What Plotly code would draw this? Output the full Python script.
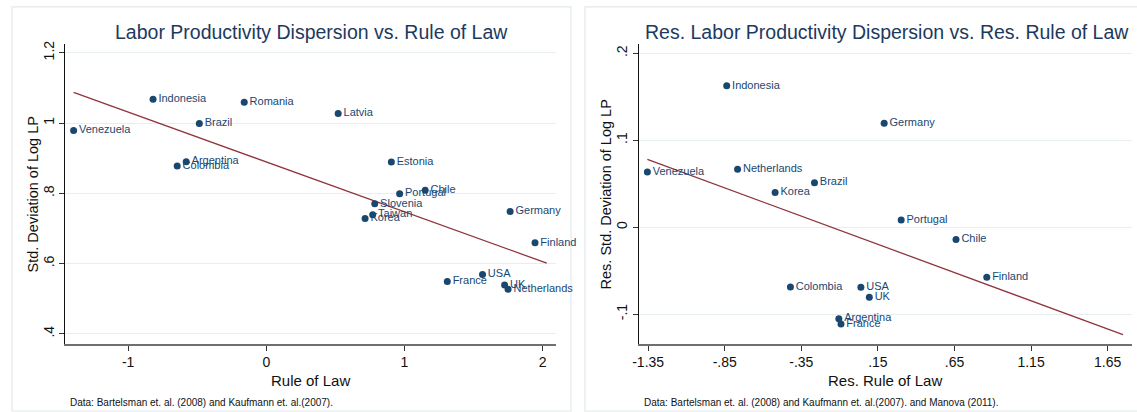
import numpy as np
import plotly.graph_objects as go

# ---------------- data ----------------
left_countries = ["Indonesia", "Romania", "Latvia", "Brazil", "Venezuela", "Argentina",
                  "Colombia", "Estonia", "Chile", "Portugal", "Slovenia", "Taiwan", "Korea",
                  "Germany", "Finland", "USA", "France", "UK", "Netherlands"]
left_rule_of_law = [-0.82, -0.16, 0.52, -0.485, -1.395, -0.58, -0.645, 0.905, 1.15, 0.965,
                    0.785, 0.77, 0.715, 1.765, 1.945, 1.565, 1.31, 1.725, 1.75]
left_sd_log_lp = [1.068, 1.059, 1.027, 0.999, 0.979, 0.890, 0.878, 0.889, 0.809, 0.799,
                  0.770, 0.739, 0.728, 0.748, 0.659, 0.569, 0.549, 0.539, 0.527]
left_fit_range = [-1.395, 2.03]

right_countries = ["Indonesia", "Germany", "Venezuela", "Netherlands", "Brazil", "Korea",
                   "Portugal", "Chile", "Finland", "Colombia", "USA", "UK", "Argentina", "France"]
right_res_rule = [-0.837, 0.191, -1.355, -0.766, -0.264, -0.521, 0.302, 0.660, 0.861,
                  -0.421, 0.039, 0.094, -0.105, -0.091]
right_res_sd = [0.1626, 0.1196, 0.0634, 0.0665, 0.0511, 0.040, 0.0081, -0.0142, -0.0577,
                -0.0688, -0.0692, -0.0807, -0.1053, -0.1115]
right_fit_range = [-1.355, 1.75]

left_xticks = [-1, 0, 1, 2]
left_xticktext = ["-1", "0", "1", "2"]
left_yticks = [0.4, 0.6, 0.8, 1.0, 1.2]
left_yticktext = [".4", ".6", ".8", "1", "1.2"]
right_xticks = [-1.35, -0.85, -0.35, 0.15, 0.65, 1.15, 1.65]
right_xticktext = ["-1.35", "-.85", "-.35", ".15", ".65", "1.15", "1.65"]
right_yticks = [-0.1, 0.0, 0.1, 0.2]
right_yticktext = ["-.1", "0", ".1", ".2"]

left_title = "Labor Productivity Dispersion vs. Rule of Law"
right_title = "Res. Labor Productivity Dispersion vs. Res. Rule of Law"
left_xlabel = "Rule of Law"
left_ylabel = "Std. Deviation of Log LP"
right_xlabel = "Res. Rule of Law"
right_ylabel = "Res. Std. Deviation of Log LP"
left_note = "Data: Bartelsman et. al. (2008) and Kaufmann et. al.(2007)."
right_note = "Data: Bartelsman et. al. (2008) and Kaufmann et. al.(2007). and Manova (2011)."

# ---------------- styling / layout ----------------
W, H = 1137, 412
FONT = "Liberation Sans, Arial, Helvetica, sans-serif"
NAVY = "#1a476f"
MAROON = "#90353b"
GRID = "#e6eef1"
BORDER = "#e1e9ec"


def px(x):
    return x / W


def py(y):
    return 1 - y / H


fig = go.Figure()


def fit_line(xs, ys, rng):
    b, a = np.polyfit(np.array(xs), np.array(ys), 1)
    fx = np.array(rng)
    return fx, a + b * fx


# left panel
fx, fy = fit_line(left_rule_of_law, left_sd_log_lp, left_fit_range)
fig.add_trace(go.Scatter(x=fx, y=fy, mode="lines", line=dict(color=MAROON, width=1.3),
                         xaxis="x", yaxis="y", showlegend=False, hoverinfo="skip"))
fig.add_trace(go.Scatter(x=left_rule_of_law, y=left_sd_log_lp, mode="markers+text",
                         text=left_countries, textposition="middle right",
                         textfont=dict(family=FONT, size=11, color=NAVY),
                         marker=dict(color=NAVY, size=7), cliponaxis=False,
                         xaxis="x", yaxis="y", showlegend=False))

# right panel
fx, fy = fit_line(right_res_rule, right_res_sd, right_fit_range)
fig.add_trace(go.Scatter(x=fx, y=fy, mode="lines", line=dict(color=MAROON, width=1.3),
                         xaxis="x2", yaxis="y2", showlegend=False, hoverinfo="skip"))
fig.add_trace(go.Scatter(x=right_res_rule, y=right_res_sd, mode="markers+text",
                         text=right_countries, textposition="middle right",
                         textfont=dict(family=FONT, size=11, color=NAVY),
                         marker=dict(color=NAVY, size=7), cliponaxis=False,
                         xaxis="x2", yaxis="y2", showlegend=False))

xcommon = dict(showgrid=False, zeroline=False, showline=True, linecolor="#6f6f6f",
               linewidth=2, ticks="outside", ticklen=5, tickcolor="#333333",
               tickfont=dict(family=FONT, size=14, color="#111111"))
ycommon = dict(showgrid=True, gridcolor=GRID, gridwidth=1, zeroline=False, showline=True,
               linecolor="#111111", linewidth=1, ticks="outside", ticklen=5,
               tickcolor="#333333", tickangle=-90,
               tickfont=dict(family=FONT, size=14, color="#111111"))

fig.update_layout(
    width=W, height=H,
    margin=dict(l=0, r=0, t=0, b=0),
    paper_bgcolor="white", plot_bgcolor="white",
    font=dict(family=FONT),
    xaxis=dict(domain=[px(59.5), px(552.5)], range=[-1.456, 2.094], anchor="y",
               tickvals=left_xticks, ticktext=left_xticktext, **xcommon),
    yaxis=dict(domain=[py(343), py(41)], range=[0.3725, 1.2258], anchor="x",
               tickvals=left_yticks, ticktext=left_yticktext, **ycommon),
    xaxis2=dict(domain=[px(636), px(1131.5)], range=[-1.412, 1.806], anchor="y2",
                tickvals=right_xticks, ticktext=right_xticktext, **xcommon),
    yaxis2=dict(domain=[py(343), py(41)], range=[-0.1338, 0.211], anchor="x2",
                tickvals=right_yticks, ticktext=right_yticktext, **ycommon),
)

# panel frames
fig.add_shape(type="rect", xref="paper", yref="paper", x0=px(6), x1=px(568),
              y0=py(411), y1=py(4), line=dict(color=BORDER, width=1.2), layer="below")
fig.add_shape(type="rect", xref="paper", yref="paper", x0=px(582), x1=px(1145),
              y0=py(411), y1=py(4), line=dict(color=BORDER, width=1.2), layer="below")


def ann(text, x, y, size, color="#111111", angle=0, xanchor="center"):
    fig.add_annotation(text=text, x=px(x), y=py(y), xref="paper", yref="paper",
                       showarrow=False, xanchor=xanchor, yanchor="middle",
                       textangle=angle, font=dict(family=FONT, size=size, color=color))


ann(left_title, 307, 29, 19.5, color="#1c3a5e")
ann(right_title, 886, 29, 19.5, color="#1c3a5e")
ann(left_xlabel, 306, 380, 15)
ann(right_xlabel, 884, 380, 15)
ann(left_ylabel, 27, 193, 14.5, angle=-90)
ann(right_ylabel, 603, 193, 14.5, angle=-90)
ann(left_note, 62, 402, 10, xanchor="left")
ann(right_note, 639, 402, 10, xanchor="left")

fig.write_html("out.html", config={"displayModeBar": False},
               post_script="document.body.style.margin='0';document.body.style.overflow='hidden';")
